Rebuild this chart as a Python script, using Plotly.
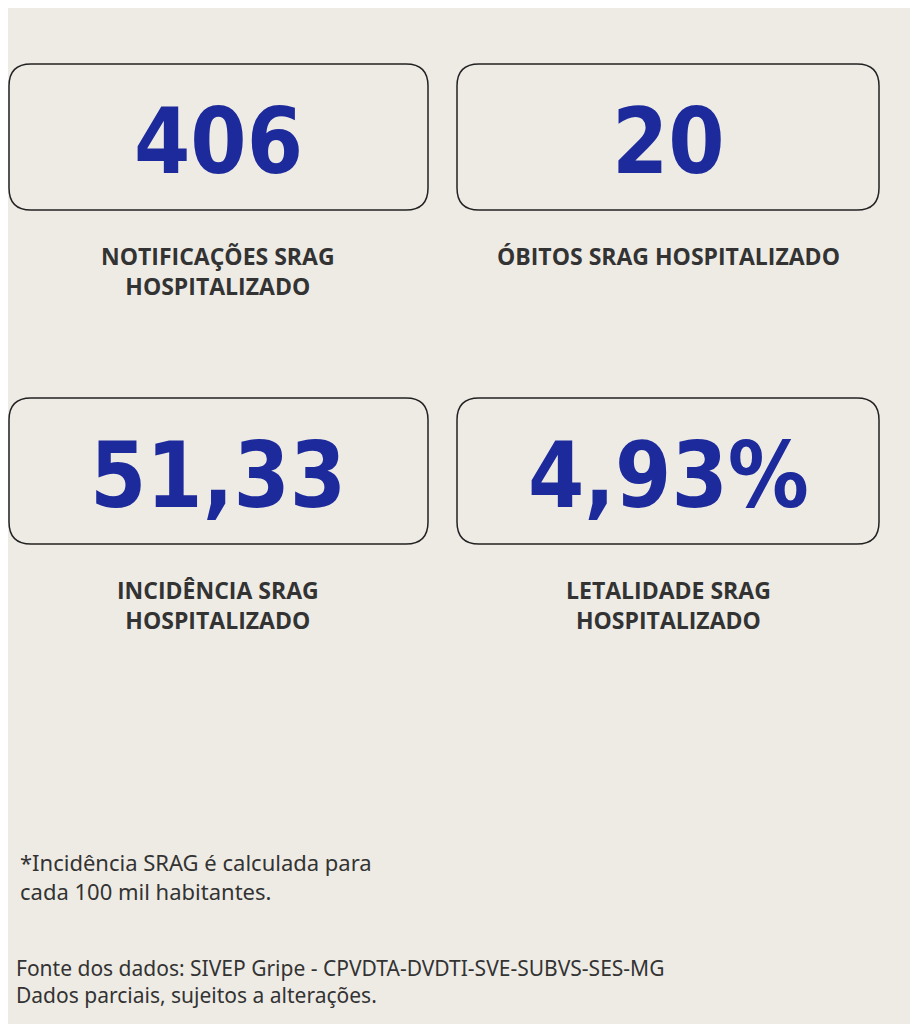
import plotly.graph_objects as go

values = ["406", "20", "51,33", "4,93%"]
labels = ["NOTIFICAÇÕES SRAG<br>HOSPITALIZADO", "ÓBITOS SRAG HOSPITALIZADO",
          "INCIDÊNCIA SRAG<br>HOSPITALIZADO", "LETALIDADE SRAG<br>HOSPITALIZADO"]
note = "*Incidência SRAG é calculada para<br>cada 100 mil habitantes."
source = "Fonte dos dados: SIVEP Gripe - CPVDTA-DVDTI-SVE-SUBVS-SES-MG<br>Dados parciais, sujeitos a alterações."

W, H = 918, 1024
OFF = 8
cols = [(8 - OFF, 428 - OFF), (457 - OFF, 879 - OFF)]
rows = [(64 - OFF, 210 - OFF), (398 - OFF, 544 - OFF)]

def rrect(x0, y0, x1, y1, r=22):
    return (f"M {x0+r},{y0} L {x1-r},{y0} Q {x1},{y0} {x1},{y0+r} L {x1},{y1-r} "
            f"Q {x1},{y1} {x1-r},{y1} L {x0+r},{y1} Q {x0},{y1} {x0},{y1-r} "
            f"L {x0},{y0+r} Q {x0},{y0} {x0+r},{y0} Z")

fig = go.Figure()
shapes, anns = [], []
for i, (v, lab) in enumerate(zip(values, labels)):
    x0, x1 = cols[i % 2]
    y0, y1 = rows[i // 2]
    cx = (x0 + x1) / 2
    shapes.append(dict(type="path", path=rrect(max(x0, 1), y0, x1, y1), xref="x", yref="y",
                       line=dict(color="#222222", width=1.5), fillcolor="rgba(0,0,0,0)"))
    anns.append(dict(x=cx, y=(y0 + y1) / 2 + 4, text=f"<b>{v}</b>", showarrow=False,
                     xref="x", yref="y",
                     font=dict(family="DejaVu Sans Condensed", size=90, color="#1c2a9c")))
    anns.append(dict(x=cx, y=y1 + 28, text=f"<b>{lab}</b>", showarrow=False, xref="x", yref="y",
                     yanchor="top", align="center",
                     font=dict(family="Open Sans, Noto Sans", size=23, color="#333333")))
anns.append(dict(x=10, y=837, text=note, showarrow=False, xref="x", yref="y", xanchor="left",
                 yanchor="top", align="left",
                 font=dict(family="Noto Sans, Open Sans", size=22, color="#333333")))
anns.append(dict(x=6, y=944, text=source, showarrow=False, xref="x", yref="y", xanchor="left",
                 yanchor="top", align="left",
                 font=dict(family="Noto Sans, Open Sans", size=21, color="#333333")))

fig.update_layout(width=W, height=H, margin=dict(l=0, r=0, t=0, b=0),
                  paper_bgcolor="#eeebe5", plot_bgcolor="#eeebe5",
                  shapes=shapes, annotations=anns, showlegend=False,
                  xaxis=dict(range=[0, W], visible=False, fixedrange=True),
                  yaxis=dict(range=[H, 0], visible=False, fixedrange=True))
fig.write_html("out.html", config={"displayModeBar": False})
